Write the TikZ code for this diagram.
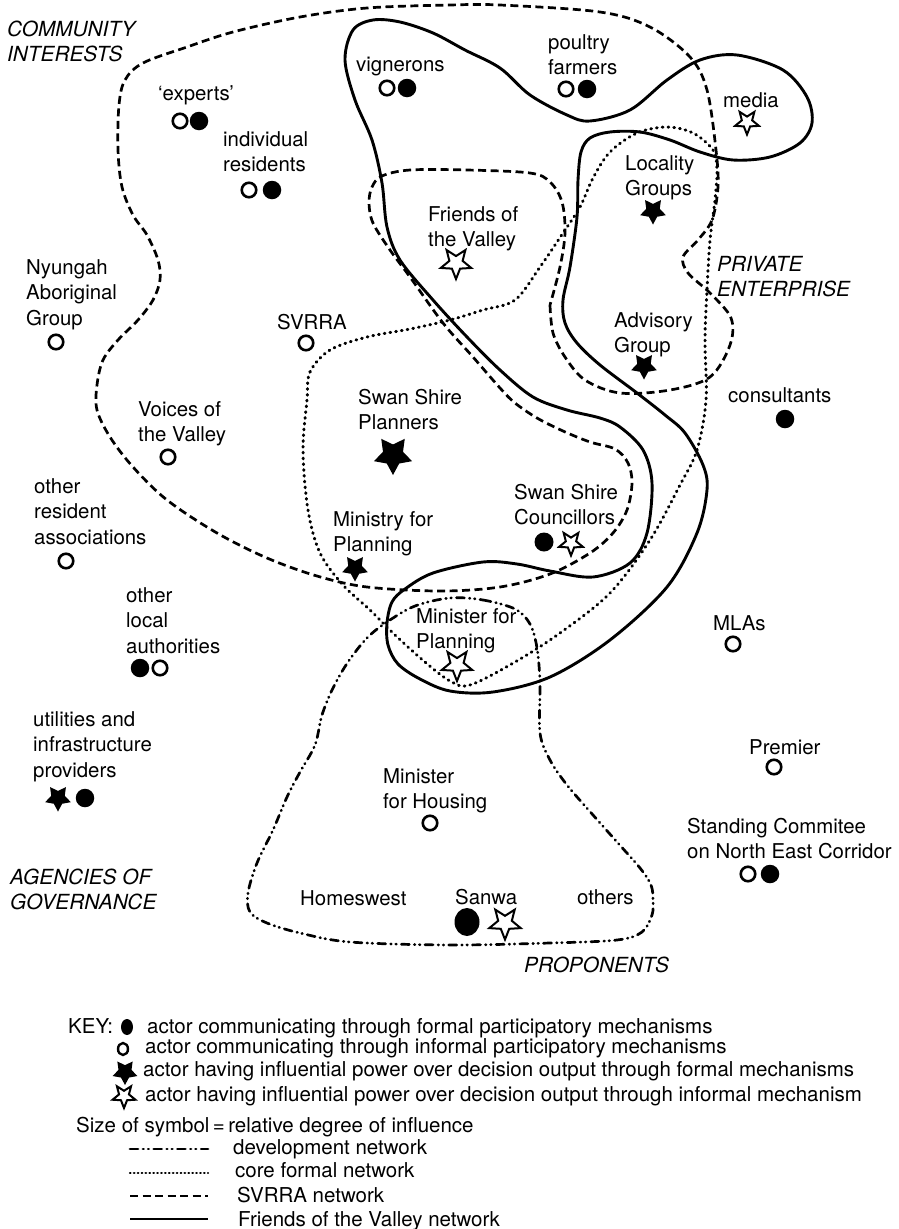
\documentclass[tikz,border=0pt]{standalone}
\usepackage{fontspec}
\setmainfont{TeX Gyre Heros}
\usetikzlibrary{shapes.geometric}

\newcommand\labelfont{\fontsize{20.4}{25.5}\selectfont}
\newcommand\keyfont{\fontsize{20.5}{24}\selectfont}
\newcommand\regionfont{\fontsize{20.8}{25}\selectfont\itshape}

\begin{document}
\begin{tikzpicture}[x=1pt, y=-1pt,
  lbl/.style={anchor=north west, inner sep=0pt, align=left, yshift=17.85pt, font=\labelfont},
  region/.style={lbl, font=\regionfont},
  keytext/.style={anchor=base west, inner sep=0pt, font=\keyfont},
  ocirc/.style={circle, draw, line width=2.6pt, minimum size=14.5pt, inner sep=0pt},
  fcirc/.style={circle, fill, minimum size=18.5pt, inner sep=0pt},
  fstar/.style={star, star points=5, star point ratio=1.9, fill, draw=none, inner sep=0pt, minimum size=#1, shape border rotate=180},
  ostar/.style={star, star points=5, star point ratio=2.3, draw, fill=white, line width=2pt, inner sep=0pt, minimum size=#1, shape border rotate=180},
  friends/.style={line width=2.9pt, line join=round},
  svrra/.style={line width=2.7pt, dash pattern=on 8pt off 4.5pt},
  core/.style={line width=3pt, line cap=round, dash pattern=on 0.8pt off 5pt},
  devnet/.style={line width=2.7pt, line cap=round, dash pattern=on 8pt off 5pt on 0.6pt off 4.5pt on 0.6pt off 5pt},
]
\useasboundingbox (0,0) rectangle (899,1229);

% ---------- network outlines ----------
% SVRRA network
\draw[svrra] plot[smooth, tension=0.55] coordinates {
 (550,305) (553,333) (565,357) (585,380) (620,393) (670,390) (710,377) (730,345)
 (731,318) (710,293) (688,273) (683,257) (698,240) (712,220) (718,187) (716,150)
 (707,90) (690,57) (650,27) (600,12) (500,5) (450,5) (367,8) (300,17) (233,32)
 (187,47) (143,63) (125,80) (119,105) (118,150) (122,187) (133,215) (147,235)
 (158,260) (160,280) (153,300) (138,320) (118,340) (103,360) (97,385) (97,410)
 (110,437) (133,467) (167,500) (217,533) (267,558) (317,576) (367,587) (440,591)
 (500,587) (550,574) (590,553) (613,533) (627,510) (632,483) (628,463) (615,449)
 (590,442) (563,431) (537,418) (515,403) (500,388) (473,357) (443,323) (410,277)
 (390,250) (373,223) (369,203) (372,187) (382,176) (410,170) (467,170) (530,173)
 (550,182) (562,202) (565,233) (560,267) (550,305)};

% Friends of the Valley network
\draw[friends] plot[smooth cycle, tension=0.55] coordinates {
 (345,60) (353,30) (373,20) (400,22) (433,33) (465,50) (500,68) (530,95) (567,115)
 (590,121) (630,110) (667,80) (700,60) (737,55) (783,70) (807,97) (812,123)
 (800,143) (770,157) (733,160) (700,152) (670,140) (640,132) (610,132) (590,138)
 (581,152) (578,180) (577,217) (570,267) (563,300) (565,323) (577,343) (600,365)
 (637,393) (665,415) (685,433) (703,465) (707,490) (697,533) (667,587) (610,640)
 (550,677) (493,692) (450,691) (420,679) (398,664) (388,645) (387,623) (392,602)
 (405,589) (433,573) (483,562) (517,564) (550,571) (593,577) (630,563) (647,533)
 (652,483) (643,450) (620,427) (600,418) (567,410) (533,397) (500,370) (467,337)
 (433,300) (400,260) (387,227) (382,183) (372,140) (355,100)};

% core formal network
\draw[core] plot[smooth cycle, tension=0.55] coordinates {
 (307,400) (310,372) (330,350) (367,337) (410,329) (450,320) (483,310) (515,300)
 (540,267) (563,233) (580,207) (593,178) (610,152) (637,133) (667,127) (693,133)
 (713,150) (717,170) (715,200) (710,240) (707,290) (705,340) (706,400) (697,450)
 (680,485) (650,540) (610,593) (560,633) (515,662) (470,685) (450,681) (425,662)
 (395,635) (370,610) (343,585) (320,553) (308,510) (303,450)};

% development network
\draw[devnet] plot[smooth cycle, tension=0.55] coordinates {
 (450,598) (483,600) (515,609) (530,624) (537,648) (540,683) (540,733) (550,760)
 (567,785) (593,815) (617,842) (640,868) (651,885) (653,900) (652,915) (642,932)
 (617,940) (550,943) (450,945) (350,942) (300,933) (267,923) (250,912) (248,893)
 (257,863) (273,830) (287,797) (300,772) (315,745) (322,715) (333,688) (348,662)
 (367,638) (387,622) (415,606)};

% ---------- sector names ----------
\node[region] (comm) at (7,37) {\strut COMMUNITY\\INTERESTS};
\node[region] (priv) at (717,272) {\strut PRIVATE\\ENTERPRISE};
\node[region] (agen) at (10,885) {\strut AGENCIES OF\\GOVERNANCE};
\node[region] (prop) at (524,973) {\strut PROPONENTS};

% ---------- actors ----------
\node[lbl] (vig) at (356,71) {\strut vignerons};
\node[ocirc] (vig-o) at (387,88) {};
\node[fcirc] (vig-f) at (407,88) {};

\node[lbl] (exp) at (158,100) {\strut `experts'};
\node[ocirc] (exp-o) at (180,121) {};
\node[fcirc] (exp-f) at (199,121) {};

\node[lbl] (ind) at (223,146) {\strut individual\\residents};
\node[ocirc] (ind-o) at (249,190) {};
\node[fcirc] (ind-f) at (272,190) {};

\node[lbl] (nyu) at (26,274) {\strut Nyungah\\Aboriginal\\Group};
\node[ocirc] (nyu-o) at (56,342) {};

\node[lbl] (svr) at (277,329) {\strut SVRRA};
\node[ocirc] (svr-o) at (306,343) {};

\node[lbl] (voi) at (138,416) {\strut Voices of\\the Valley};
\node[ocirc] (voi-o) at (168,457) {};

\node[lbl] (pou) at (548,49) {\strut poultry\\farmers};
\node[ocirc] (pou-o) at (566,89) {};
\node[fcirc] (pou-f) at (587,89) {};

\node[lbl] (med) at (723,107) {\strut media};
\node[ostar=25pt] (med-s) at (747,122) {};

\node[lbl] (loc) at (625,170) {\strut Locality\\Groups};
\node[fstar=27pt] (loc-s) at (653,211) {};

\node[lbl] (adv) at (614,327) {\strut Advisory\\Group};
\node[fstar=27pt] (adv-s) at (644,366) {};

\node[lbl] (con) at (728,402) {\strut consultants};
\node[fcirc] (con-f) at (785,419) {};

\node[lbl] (fri) at (428,221) {\strut Friends of\\the Valley};
\node[ostar=32pt] (fri-s) at (456,263) {};

\node[lbl] (ssp) at (358,404) {\strut Swan Shire\\Planners};
\node[fstar=40pt] (ssp-s) at (393,455) {};

\node[lbl] (mfp) at (333,526) {\strut Ministry for\\Planning};
\node[fstar=27pt] (mfp-s) at (355,568) {};

\node[lbl] (mpl) at (416,623) {\strut Minister for\\Planning};
\node[ostar=32pt] (mpl-s) at (457,665) {};

\node[lbl] (ora) at (34,493) {\strut other\\resident\\associations};
\node[ocirc] (ora-o) at (66,561) {};

\node[lbl] (ola) at (126,602) {\strut other\\local\\authorities};
\node[fcirc] (ola-f) at (140,668) {};
\node[ocirc] (ola-o) at (160,668) {};

\node[lbl] (uti) at (33,726) {\strut utilities and\\infrastructure\\providers};
\node[fstar=27pt] (uti-s) at (58,798) {};
\node[fcirc] (uti-f) at (85,798) {};

\node[lbl] (mho) at (383,783) {\strut Minister\\for Housing};
\node[ocirc] (mho-o) at (430,823) {};

\node[lbl] (ssc) at (514,499) {\strut Swan Shire\\Councillors};
\node[fcirc, minimum size=19pt] (ssc-f) at (544,542) {};
\node[ostar=25pt] (ssc-s) at (571,543) {};

\node[lbl] (mla) at (713,630) {\strut MLAs};
\node[ocirc] (mla-o) at (733,644) {};

\node[lbl] (pre) at (749,754) {\strut Premier};
\node[ocirc] (pre-o) at (774,767) {};

\node[lbl] (stc) at (687,833) {\strut Standing Commitee\\on North East Corridor};
\node[ocirc] (stc-o) at (748,874) {};
\node[fcirc] (stc-f) at (770,874) {};

\node[lbl] (hom) at (300,905) {\strut Homeswest};
\node[lbl] (san) at (455,904) {\strut Sanwa};
\node[ellipse, fill, minimum width=25pt, minimum height=28pt, inner sep=0pt] (san-f) at (467,922) {};
\node[ostar=33pt] (san-s) at (505,923) {};
\node[lbl] (oth) at (577,904) {\strut others};

% ---------- key ----------
\node[keytext] (key) at (68,1033) {KEY:};
\node[ellipse, fill, minimum width=12pt, minimum height=16pt, inner sep=0pt] (key1) at (127,1027) {};
\node[keytext] (key1t) at (147,1033) {actor communicating through formal participatory mechanisms};
\node[ellipse, draw, line width=2.4pt, minimum width=10pt, minimum height=12pt, inner sep=0pt] (key2) at (123,1049) {};
\node[keytext] (key2t) at (145,1053) {actor communicating through informal participatory mechanisms};
\node[fstar=26pt] (key3) at (125,1072) {};
\node[keytext] (key3t) at (143,1076) {actor having influential power over decision output through formal mechanisms};
\node[ostar=24pt] (key4) at (124,1096) {};
\node[keytext] (key4t) at (145,1101) {actor having influential power over decision output through informal mechanism};
\node[keytext] (size) at (76,1132) {Size of symbol\,=\,relative degree of influence};

\coordinate (l1a) at (130,1149); \coordinate (l1b) at (208,1149);
\coordinate (l2a) at (130,1173); \coordinate (l2b) at (208,1173);
\coordinate (l3a) at (130,1196); \coordinate (l3b) at (208,1196);
\coordinate (l4a) at (130,1219); \coordinate (l4b) at (208,1219);
\draw[devnet] (l1a) -- (l1b);
\draw[core, line width=2.4pt, dash pattern=on 0.5pt off 3.4pt] (l2a) -- (l2b);
\draw[svrra] (l3a) -- (l3b);
\draw[friends] (l4a) -- (l4b);
\node[keytext] (l1t) at (233,1154) {development network};
\node[keytext] (l2t) at (235,1177) {core formal network};
\node[keytext] (l3t) at (237,1202) {SVRRA network};
\node[keytext] (l4t) at (238,1226) {Friends of the Valley network};
\end{tikzpicture}
\end{document}
